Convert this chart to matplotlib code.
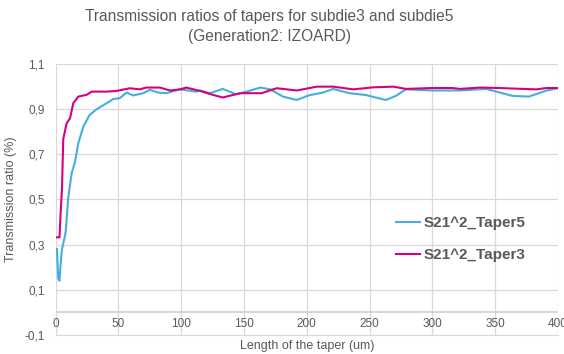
import matplotlib
matplotlib.use('Agg')
import matplotlib.pyplot as plt
from matplotlib.ticker import FuncFormatter

plt.rcParams['font.family'] = ['Liberation Sans', 'DejaVu Sans']

# taper length (um) and transmission ratio
taper5_x = [1, 2, 3, 4, 5, 7, 8, 10, 12.7, 15.4, 18, 22, 27, 32.6, 40.6, 45.8,
            51, 56.5, 61.7, 69.7, 75, 81.6, 88.3, 99, 112, 115, 123, 133, 144,
            152, 163, 171, 181, 192, 202, 213, 221, 234, 247, 263, 271, 279,
            300, 322, 343, 351, 364, 377, 391, 400]
taper5_y = [0.28, 0.15, 0.14, 0.22, 0.28, 0.33, 0.36, 0.51, 0.616, 0.667,
            0.749, 0.822, 0.874, 0.899, 0.926, 0.944, 0.948, 0.973, 0.96,
            0.97, 0.985, 0.973, 0.97, 0.987, 0.977, 0.982, 0.97, 0.989, 0.965,
            0.977, 0.995, 0.987, 0.955, 0.94, 0.961, 0.973, 0.989, 0.97, 0.962,
            0.94, 0.958, 0.987, 0.982, 0.982, 0.989, 0.977, 0.958, 0.955,
            0.982, 0.992]

taper3_x = [1, 2, 3, 4, 5, 6, 8.7, 11.4, 14, 18, 24.7, 28.6, 40.6, 48.5, 59,
            67, 72, 83, 91, 99, 104, 115, 125, 133, 147, 164, 176, 192, 208,
            221, 237, 253, 269, 279, 300, 316, 322, 338, 353, 372, 383, 391,
            400]
taper3_y = [0.332, 0.332, 0.332, 0.45, 0.55, 0.767, 0.837, 0.859, 0.926,
            0.955, 0.963, 0.977, 0.977, 0.98, 0.992, 0.987, 0.995, 0.995,
            0.982, 0.987, 0.995, 0.98, 0.963, 0.951, 0.97, 0.97, 0.992, 0.982,
            0.999, 0.999, 0.987, 0.996, 0.999, 0.989, 0.993, 0.993, 0.989,
            0.995, 0.993, 0.989, 0.987, 0.993, 0.993]

x_ticks = [0, 50, 100, 150, 200, 250, 300, 350, 400]
y_ticks = [-0.1, 0.1, 0.3, 0.5, 0.7, 0.9, 1.1]

blue = '#45ADE0'
magenta = '#D6007E'
grey = '#595959'

fig = plt.figure(figsize=(5.64, 3.54), dpi=100)
ax = fig.add_axes([0.0988, 0.0537, 0.8902, 0.766])

ax.plot(taper5_x, taper5_y, color=blue, lw=1.5, label='S21^2_Taper5')
ax.plot(taper3_x, taper3_y, color=magenta, lw=1.5, label='S21^2_Taper3')

ax.set_xlim(0, 400)
ax.set_ylim(-0.1, 1.1)
ax.set_xticks(x_ticks)
ax.set_yticks(y_ticks)
ax.yaxis.set_major_formatter(FuncFormatter(lambda v, p: f'{v:.1f}'.replace('.', ',')))
ax.grid(True, color='#D9D9D9', lw=0.9)
ax.set_axisbelow(True)
ax.axhline(0, color='#D0D0D0', lw=1.2, zorder=1)

for s in ['top', 'right', 'left']:
    ax.spines[s].set_visible(False)
ax.spines['bottom'].set_color('#D9D9D9')
ax.tick_params(length=0, colors=grey, labelsize=8.5)
ax.tick_params(axis='x', pad=-8)
ax.tick_params(axis='y', pad=8)
for lab in ax.get_xticklabels():
    lab.set_verticalalignment('center')

ax.set_xlabel('Length of the taper (um)', color=grey, fontsize=9, labelpad=3.5)
ax.set_ylabel('Transmission ratio (%)', color=grey, fontsize=9, labelpad=5)

fig.suptitle('Transmission ratios of tapers for subdie3 and subdie5\n(Generation2: IZOARD)',
             color=grey, fontsize=11.2, x=0.478, y=0.975, linespacing=1.4)

leg = ax.legend(loc='upper left', bbox_to_anchor=(0.65, 0.49), frameon=False,
                handlelength=1.6, handletextpad=0.2, labelspacing=1.2,
                prop=dict(size=11, weight='bold'))
for t in leg.get_texts():
    t.set_color(grey)

fig.savefig('out.png', dpi=100)
